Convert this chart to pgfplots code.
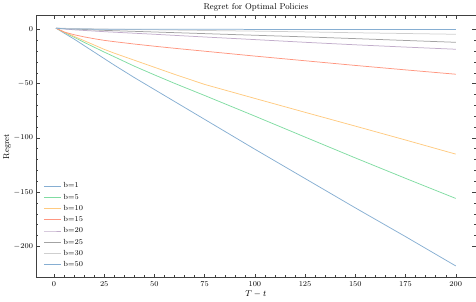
\RequirePackage{fix-cm}
\documentclass[border=0pt]{standalone}
\usepackage{pgfplots}
\pgfplotsset{compat=1.18}
\definecolor{c1}{RGB}{134,174,210}
\definecolor{c2}{RGB}{128,220,162}
\definecolor{c3}{RGB}{255,202,128}
\definecolor{c4}{RGB}{255,150,128}
\definecolor{c5}{RGB}{194,173,203}
\definecolor{c6}{RGB}{163,163,163}
\definecolor{c7}{RGB}{207,207,207}
\begin{document}
\begin{tikzpicture}
\begin{axis}[
  scale only axis,
  width=440pt, height=262pt,
  xmin=-8.95, xmax=209.95,
  ymin=-228.6, ymax=12.6,
  xtick={0,25,...,200},
  ytick={-200,-150,-100,-50,0},
  minor x tick num=4,
  minor y tick num=4,
  tick align=inside,
  xtick pos=both, ytick pos=both,
  major tick length=3.5pt,
  minor tick length=2pt,
  axis line style={black!75, line width=0.5pt},
  every tick/.style={black!75, line width=0.4pt},
  tick label style={font=\fontsize{7.4}{9}\selectfont},
  xticklabel style={yshift=-0.5pt},
  yticklabel style={xshift=0.5pt},
  title={Regret for Optimal Policies},
  title style={font=\fontsize{8.5}{10}\selectfont, yshift=-5pt},
  xlabel={$T-t$},
  ylabel={Regret},
  label style={font=\fontsize{8.5}{10}\selectfont},
  xlabel style={yshift=2pt},
  ylabel style={yshift=-4pt},
  legend style={at={(0.01,0.02)}, anchor=south west, draw=none, fill=none,
    font=\fontsize{7.4}{9}\selectfont, row sep=0.6pt},
  legend cell align=left,
  every axis plot/.append style={line width=0.75pt},
]
\addplot[c1] coordinates {(1,1)(5,-3.5)(10,-9)(15,-15)(20,-21)(25,-27)(30,-33)(40,-44.5)(50,-55.5)(60,-66.5)(75,-83)(100,-110.5)(125,-137.5)(150,-164.5)(175,-191)(200,-218)};
\addlegendentry{b=1}
\addplot[c2] coordinates {(1,1)(5,-2.8)(10,-7.3)(15,-12)(20,-16.5)(25,-21)(30,-25.3)(40,-34)(50,-42)(60,-49.8)(75,-61)(100,-80)(125,-99.3)(150,-118.5)(175,-137.3)(200,-155.8)};
\addlegendentry{b=5}
\addplot[c3] coordinates {(1,1)(5,-2.5)(10,-6.5)(15,-10.5)(20,-14.5)(25,-18.5)(30,-22)(40,-28.5)(50,-35)(60,-41.5)(75,-50.8)(100,-63.7)(125,-76.5)(150,-89.2)(175,-102)(200,-115)};
\addlegendentry{b=10}
\addplot[c4] coordinates {(1,1)(5,-2.5)(10,-5)(15,-7)(20,-8.7)(25,-10.2)(30,-11.4)(40,-13.6)(50,-15.6)(60,-17.5)(75,-20.2)(100,-24.7)(125,-29)(150,-33.3)(175,-37.4)(200,-41.4)};
\addlegendentry{b=15}
\addplot[c5] coordinates {(1,1)(10,-0.5)(25,-2.2)(50,-4.6)(75,-7.1)(100,-9.5)(125,-12)(150,-14.3)(175,-16.4)(200,-18.4)};
\addlegendentry{b=20}
\addplot[c6] coordinates {(1,1)(25,-1)(50,-2.5)(75,-4)(100,-5.5)(125,-7)(150,-8.6)(175,-10.3)(200,-12)};
\addlegendentry{b=25}
\addplot[c7] coordinates {(1,1)(25,0.2)(50,-0.5)(75,-1.1)(100,-1.7)(125,-2.4)(150,-3.2)(175,-3.9)(200,-4.6)};
\addlegendentry{b=30}
\addplot[c1] coordinates {(1,1)(5,0.4)(10,0.2)(25,0.1)(50,0)(100,-0.1)(150,-0.15)(200,-0.2)};
\addlegendentry{b=50}
\end{axis}
\end{tikzpicture}
\end{document}
